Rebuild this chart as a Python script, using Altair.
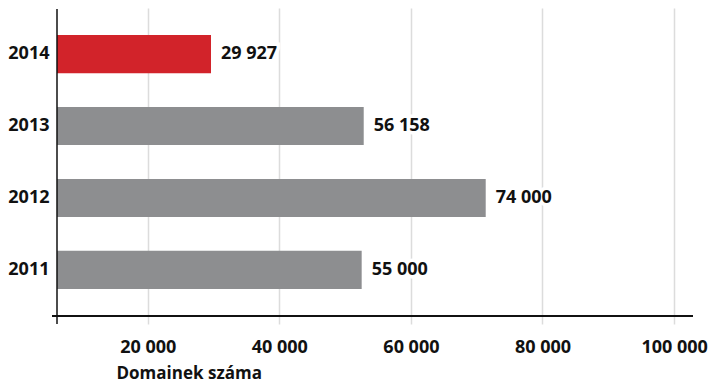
import altair as alt
import pandas as pd

years = ["2014", "2013", "2012", "2011"]
# bar lengths as read against the x axis of the reference
bar_values = [29620, 52830, 71370, 52520]
# value labels printed next to the bars
value_labels = ["29 927", "56 158", "74 000", "55 000"]
x_ticks = [20000, 40000, 60000, 80000, 100000]
x_title = "Domainek száma"
highlight_year = "2014"

df = pd.DataFrame({"year": years, "value": bar_values, "label": value_labels})
df["kind"] = ["hl" if y == highlight_year else "base" for y in years]

W, H = 636, 308
FONT = "Open Sans"
FS = 18

xscale = alt.Scale(domain=[6216, 102873], zero=False, nice=False)
yscale = alt.Scale(paddingInner=0.47, paddingOuter=0.375)

x_enc = alt.X(
    "value:Q",
    scale=xscale,
    axis=alt.Axis(
        values=x_ticks,
        grid=True,
        gridColor="#dcdcdc",
        gridWidth=1.5,
        ticks=True,
        tickColor="#dcdcdc",
        tickWidth=1.5,
        tickSize=8,
        domain=False,
        labelFontSize=FS,
        labelFontWeight="bold",
        labelColor="#111111",
        labelPadding=14,
        labelExpr="replace(format(datum.value, ','), ',', ' ')",
        title=x_title,
        titleFontSize=17,
        titleFontWeight="bold",
        titleColor="#111111",
        titleAlign="left",
        titleAnchor="start",
        titleX=59,
        titleY=62,
        titleBaseline="alphabetic",
    ),
)
y_enc = alt.Y(
    "year:N",
    sort=years,
    scale=yscale,
    axis=alt.Axis(
        title=None,
        ticks=False,
        domain=False,
        grid=False,
        labelFontSize=FS,
        labelFontWeight="bold",
        labelColor="#111111",
        labelPadding=8,
    ),
)

bars = alt.Chart(df).mark_bar(clip=True).encode(
    x=x_enc,
    y=y_enc,
    color=alt.Color(
        "kind:N",
        scale=alt.Scale(domain=["hl", "base"], range=["#d2232a", "#8d8e90"]),
        legend=None,
    ),
)

halo = alt.Chart(df).mark_text(
    align="left", baseline="middle", dx=10, fontSize=FS, fontWeight="bold",
    stroke="white", strokeWidth=7, fill="white", font=FONT,
).encode(x=alt.X("value:Q", scale=xscale), y=alt.Y("year:N", sort=years, scale=yscale), text="label:N")

labels = alt.Chart(df).mark_text(
    align="left", baseline="middle", dx=10, fontSize=FS, fontWeight="bold",
    color="#111111", font=FONT,
).encode(x=alt.X("value:Q", scale=xscale), y=alt.Y("year:N", sort=years, scale=yscale), text="label:N")

one = pd.DataFrame({"a": [0]})
x_line = alt.Chart(one).mark_rule(color="#111111", strokeWidth=2).encode(
    x=alt.value(-5), x2=alt.value(W), y=alt.value(H)
)
y_line = alt.Chart(one).mark_rule(color="#111111", strokeWidth=1.5).encode(
    x=alt.value(0), y=alt.value(1), y2=alt.value(H + 8)
)

chart = alt.layer(bars, halo, labels, x_line, y_line).properties(
    width=W,
    height=H,
    autosize=alt.AutoSizeParams(type="none"),
    padding={"left": 57, "top": 8, "right": 17, "bottom": 67},
).configure(font=FONT).configure_view(stroke=None)

chart.save("out.html", embed_options={"renderer": "svg", "actions": False})
